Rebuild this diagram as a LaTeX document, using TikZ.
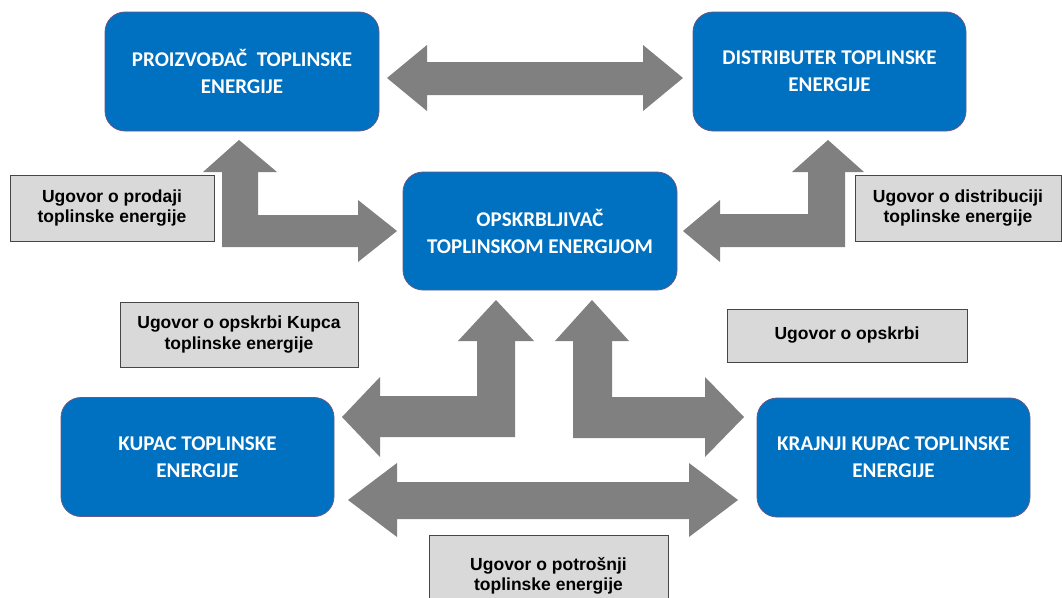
\documentclass[tikz,border=0pt]{standalone}
\usepackage{fontspec}
\setmainfont{Carlito}
\newfontfamily\arialfont{Liberation Sans}
\definecolor{boxblue}{RGB}{0,112,192}
\definecolor{boxedge}{RGB}{100,90,140}
\definecolor{labelgray}{RGB}{217,217,217}
\definecolor{labeledge}{RGB}{70,70,70}
\definecolor{arrowgray}{RGB}{128,128,128}
\begin{document}
\begin{tikzpicture}[x=1pt,y=-1pt,
  party/.style={draw=boxedge,line width=0.8pt,fill=boxblue,rounded corners=20pt,
    text=white,align=center,inner sep=0pt,
    font=\fontsize{21}{27}\selectfont\bfseries},
  contract/.style={draw=labeledge,line width=0.8pt,fill=labelgray,
    text=black,align=center,inner sep=0pt,
    font=\arialfont\fontsize{17.5}{20.5}\selectfont\bfseries},
  blockarrow/.style={fill=arrowgray,draw=none}]
\useasboundingbox (0,0) rectangle (1062,597);
\clip (0,0) rectangle (1062,597);
\fill[white] (0,0) rectangle (1062,597);

% arrows
\fill[blockarrow] (387,78) -- (427,45) -- (427,62) -- (643,62) -- (643,45) -- (683,78)
  -- (643,111) -- (643,95) -- (427,95) -- (427,111) -- cycle;
\fill[blockarrow] (239,140) -- (277,172) -- (258,172) -- (258,215) -- (358,215) -- (358,200)
  -- (397,231) -- (358,262) -- (358,247) -- (222,247) -- (222,172) -- (203,172) -- cycle;
\fill[blockarrow] (828,140) -- (864,172) -- (845,172) -- (845,247) -- (720,247) -- (720,262)
  -- (683,231) -- (720,200) -- (720,214) -- (808,214) -- (808,172) -- (792,172) -- cycle;
\fill[blockarrow] (496,300) -- (534,341) -- (515,341) -- (515,437) -- (380,437) -- (380,457)
  -- (342,417) -- (380,377) -- (380,396) -- (477,396) -- (477,341) -- (458,341) -- cycle;
\fill[blockarrow] (592,300) -- (629,341) -- (612,341) -- (612,397) -- (705,397) -- (705,377)
  -- (744,417) -- (705,457) -- (705,438) -- (573,438) -- (573,341) -- (555,341) -- cycle;
\fill[blockarrow] (348,500) -- (397,463) -- (397,482) -- (689,482) -- (689,463) -- (738,500)
  -- (689,537) -- (689,519) -- (397,519) -- (397,537) -- cycle;

% parties
\node[party,minimum width=274pt,minimum height=119pt] (proizvodac) at (242,71.5)
  {PROIZVOĐAČ\ \ TOPLINSKE\\ENERGIJE};
\node[party,minimum width=273pt,minimum height=119pt] (distributer) at (829.5,71.5)
  {DISTRIBUTER TOPLINSKE\\ENERGIJE};
\node[party,minimum width=274pt,minimum height=118pt] (opskrbljivac) at (540,231)
  {OPSKRBLJIVAČ\\TOPLINSKOM ENERGIJOM};
\node[party,minimum width=273pt,minimum height=119pt] (kupac) at (197.5,457)
  {KUPAC TOPLINSKE\\ENERGIJE};
\node[party,minimum width=273pt,minimum height=119pt] (krajnji) at (893.5,457.5)
  {KRAJNJI KUPAC TOPLINSKE\\ENERGIJE};

% contracts
\node[contract,minimum width=204pt,minimum height=66pt] (prodaja) at (112,208)
  {Ugovor o prodaji\\toplinske energije};
\node[contract,minimum width=206pt,minimum height=66pt] (distribucija) at (958,208)
  {Ugovor o distribuciji\\toplinske energije};
\node[contract,minimum width=238pt,minimum height=65pt] (opskrbakupca) at (239,334.5)
  {Ugovor o opskrbi Kupca\\toplinske energije};
\node[contract,minimum width=240pt,minimum height=53pt] (opskrba) at (847,335.5)
  {Ugovor o opskrbi};
\node[contract,minimum width=239pt,minimum height=82pt] (potrosnja) at (548.5,576)
  {Ugovor o potrošnji\\toplinske energije};
\end{tikzpicture}
\end{document}
